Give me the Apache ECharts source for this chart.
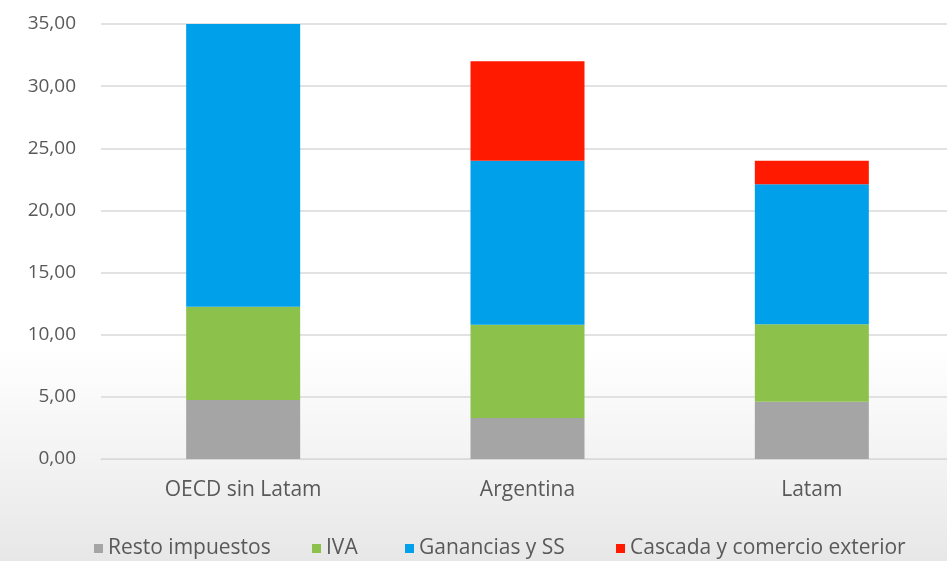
<!DOCTYPE html>
<html>
<head>
<meta charset="utf-8">
<script src="https://cdn.jsdelivr.net/npm/echarts@6/dist/echarts.min.js"></script>
<style>
  html, body { margin: 0; padding: 0; overflow: hidden; }
  #wrap { width: 947px; height: 561px; overflow: hidden; }
  #chart { width: 960px; height: 561px; }
</style>
</head>
<body>
<div id="wrap"><div id="chart"></div></div>
<script>
// Tax structure by group (% of GDP), stacked by component
const categories = ['OECD sin Latam', 'Argentina', 'Latam'];
const restoImpuestos = [4.75, 3.3, 4.6];
const iva = [7.5, 7.5, 6.25];
const gananciasSS = [22.75, 13.2, 11.25];
const cascadaComercio = [0, 8.0, 1.9];
const seriesNames = ['Resto impuestos', 'IVA', 'Ganancias y SS', 'Cascada y comercio exterior'];
const seriesColors = ['#a5a5a5', '#8cc14b', '#00a0ea', '#ff1a00'];

const textColor = '#595959';
const fontFamily = '"Open Sans", "Noto Sans", sans-serif';
// left offsets of the legend entries along the bottom row
const legendLefts = [94, 312, 405, 616];

const chart = echarts.init(document.getElementById('chart'));

function barSeries(name, data, color) {
  return {
    name: name,
    type: 'bar',
    stack: 'total',
    data: data,
    barWidth: 114,
    itemStyle: { color: color },
    emphasis: { disabled: true }
  };
}

chart.setOption({
  backgroundColor: {
    type: 'linear', x: 0, y: 0, x2: 0, y2: 1,
    colorStops: [
      { offset: 0, color: '#ffffff' },
      { offset: 0.62, color: '#ffffff' },
      { offset: 0.85, color: '#f1f1f1' },
      { offset: 1, color: '#e7e7e7' }
    ]
  },
  animation: false,
  textStyle: { fontFamily: fontFamily },
  grid: { left: 101, top: 24, right: 6, height: 435, containLabel: false },
  legend: seriesNames.map((name, i) => ({
    bottom: 2,
    left: legendLefts[i],
    itemWidth: 9,
    itemHeight: 9,
    icon: 'rect',
    padding: 0,
    textStyle: { color: textColor, fontSize: 21, fontFamily: fontFamily },
    data: [name]
  })),
  xAxis: {
    type: 'category',
    data: categories,
    axisLine: { show: true, lineStyle: { color: '#d9d9d9', width: 1 } },
    axisTick: { show: false },
    axisLabel: { color: textColor, fontSize: 21, margin: 21 }
  },
  yAxis: {
    type: 'value',
    min: 0,
    max: 35,
    interval: 5,
    axisLine: { show: false },
    axisTick: { show: false },
    splitLine: { lineStyle: { color: '#d9d9d9', width: 1.5 } },
    axisLabel: {
      color: textColor,
      fontSize: 19,
      margin: 25,
      formatter: v => v.toFixed(2).replace('.', ',')
    }
  },
  series: [
    barSeries(seriesNames[0], restoImpuestos, seriesColors[0]),
    barSeries(seriesNames[1], iva, seriesColors[1]),
    barSeries(seriesNames[2], gananciasSS, seriesColors[2]),
    barSeries(seriesNames[3], cascadaComercio, seriesColors[3])
  ]
});
</script>
</body>
</html>
